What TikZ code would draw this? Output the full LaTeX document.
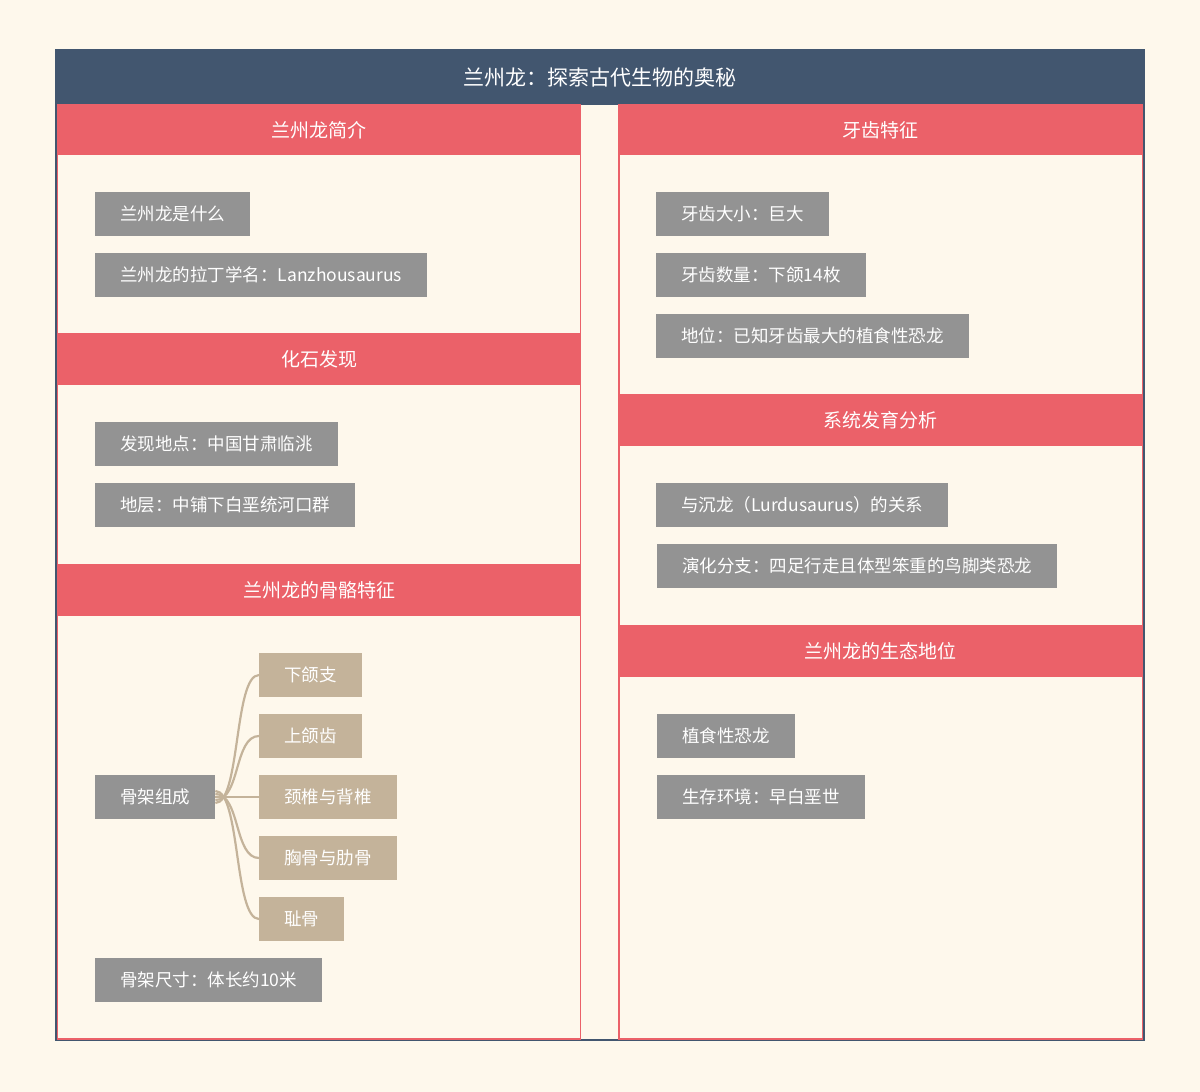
\documentclass[tikz,border=0pt]{standalone}
\usepackage{fontspec}
\setmainfont{Noto Sans CJK SC}
\definecolor{bg}{HTML}{FEF8EC}
\definecolor{navy}{HTML}{42566F}
\definecolor{rd}{HTML}{EB6169}
\definecolor{gr}{HTML}{939393}
\definecolor{tan}{HTML}{C4B39A}
\begin{document}
\begin{tikzpicture}[x=1pt,y=-1pt,
 hdr/.style={fill=rd,draw=rd,text=white,font=\fontsize{19}{22}\selectfont},
 gbox/.style={fill=gr,text=white,anchor=west,minimum height=44,inner xsep=25,font=\fontsize{17.5}{20}\selectfont},
 tbox/.style={fill=tan,text=white,anchor=west,minimum height=44,inner xsep=25,font=\fontsize{17.5}{20}\selectfont},
 lk/.style={draw=tan,line width=2.2}]
\fill[bg] (0,0) rectangle (1200,1092);
\useasboundingbox (0,0) rectangle (1200,1092);
\draw[navy,line width=2] (56,50) rectangle (1144,1040);
\fill[navy] (56,50) rectangle (1144,105);
\node[text=white,font=\fontsize{21}{24}\selectfont] (title) at (600,77) {兰州龙：探索古代生物的奥秘};
% columns
\draw[rd,line width=1.5] (57.5,105) rectangle (580.5,1039);
\draw[rd,line width=1.5] (619,105) rectangle (1142.5,1039);
% headers
\foreach \n/\x/\a/\b/\t in {h1/57/105/155/兰州龙简介, h2/57/333/385/化石发现, h3/57/564/616/兰州龙的骨骼特征, h4/618/105/155/牙齿特征, h5/618/394/446/系统发育分析, h6/618/625/677/兰州龙的生态地位}{
 \fill[rd] (\x,\a) rectangle (\x+524,\b);
 \node[text=white,font=\fontsize{19}{22}\selectfont] (\n) at (\x+262,{(\a+\b)/2}) {\t};
}
% left
\node[gbox] (a1) at (95,214) {兰州龙是什么};
\node[gbox] (a2) at (95,275) {兰州龙的拉丁学名：Lanzhousaurus};
\node[gbox] (b1) at (95,444) {发现地点：中国甘肃临洮};
\node[gbox] (b2) at (95,505) {地层：中铺下白垩统河口群};
\node[gbox] (c0) at (95,797) {骨架组成};
\node[tbox] (t1) at (259,675) {下颌支};
\node[tbox] (t2) at (259,736) {上颌齿};
\node[tbox] (t3) at (259,797) {颈椎与背椎};
\node[tbox] (t4) at (259,858) {胸骨与肋骨};
\node[tbox] (t5) at (259,919) {耻骨};
\node[gbox] (c1) at (95,980) {骨架尺寸：体长约10米};
\foreach \t/\o in {t1/-6,t2/-3,t3/0,t4/3,t5/6}
 \draw[lk] ([yshift=\o]c0.east) .. controls ([xshift=25,yshift=\o]c0.east) and ([xshift=-25]\t.west) .. (\t.west);
% right
\node[gbox] (d1) at (656,214) {牙齿大小：巨大};
\node[gbox] (d2) at (656,275) {牙齿数量：下颌14枚};
\node[gbox] (d3) at (656,336) {地位：已知牙齿最大的植食性恐龙};
\node[gbox] (e1) at (656,505) {与沉龙（Lurdusaurus）的关系};
\node[gbox] (e2) at (657,566) {演化分支：四足行走且体型笨重的鸟脚类恐龙};
\node[gbox] (f1) at (657,736) {植食性恐龙};
\node[gbox] (f2) at (657,797) {生存环境：早白垩世};
\end{tikzpicture}
\end{document}
